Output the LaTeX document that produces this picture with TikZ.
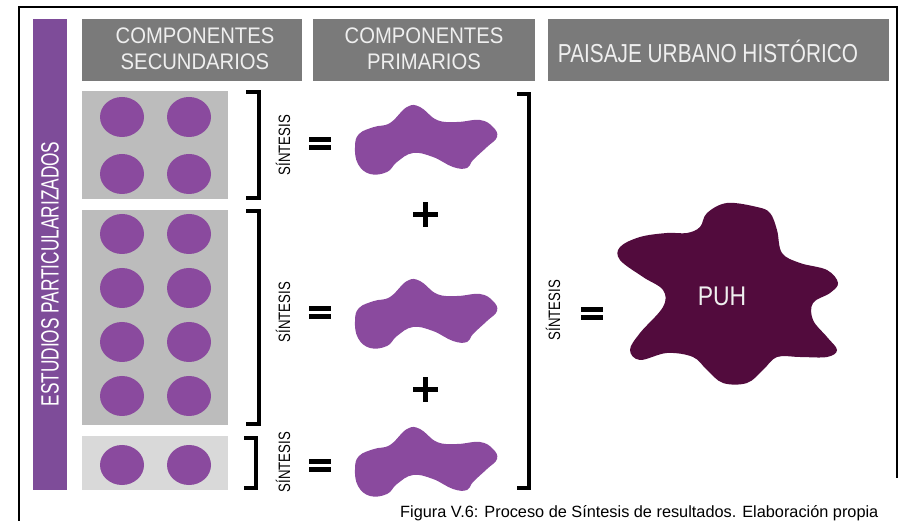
\documentclass[tikz,border=0pt]{standalone}
\usepackage{fontspec}
\setmainfont{Liberation Sans}
\definecolor{headgray}{HTML}{7A7A7A}
\definecolor{headtext}{HTML}{EFEFEF}
\definecolor{boxgray}{HTML}{BCBCBC}
\definecolor{boxlight}{HTML}{D9D9D9}
\definecolor{barpurple}{HTML}{7E4C99}
\definecolor{dotpurple}{HTML}{8A4A9E}
\definecolor{puhpurple}{HTML}{520B3D}

\tikzset{
  headtxt/.style={text=headtext,align=center,inner sep=0pt},
  sintesis/.style={rotate=90,xscale=0.8,inner sep=0pt,font=\fontsize{16.5}{18}\selectfont},
  bracket/.style={line width=4.5pt,line join=miter},
  eqsign/.pic={\fill (-11,-6.5) rectangle (11,-1.5); \fill (-11,1.5) rectangle (11,6.5);},
  plussign/.pic={\fill (-12.5,-2.5) rectangle (12.5,2.5); \fill (-2.5,-12.5) rectangle (2.5,12.5);}
}

\begin{document}
\begin{tikzpicture}[x=1pt,y=-1pt]
  \useasboundingbox (0,0) rectangle (903,521);
  \draw[line width=1.5pt] (19,521) -- (19,7) -- (897,7) -- (897,478);
  % columna lateral y cabeceras
  \fill[barpurple] (33,19) rectangle (67,490);
  \node[white,rotate=90,xscale=0.69,inner sep=0pt,font=\fontsize{25}{28}\selectfont] (estudios) at (50,274) {ESTUDIOS PARTICULARIZADOS};
  \fill[headgray] (82,19) rectangle (302,81);
  \fill[headgray] (313,19) rectangle (535,81);
  \fill[headgray] (548,19) rectangle (889,81);
  \node[headtxt,xscale=0.9,font=\fontsize{22.5}{26}\selectfont] (secund) at (195,49) {COMPONENTES\\SECUNDARIOS};
  \node[headtxt,xscale=0.9,font=\fontsize{22.5}{26}\selectfont] (primar) at (424,49) {COMPONENTES\\PRIMARIOS};
  \node[headtxt,xscale=0.8,font=\fontsize{26}{28}\selectfont] (puhhead) at (708,51) {PAISAJE URBANO HIST\'ORICO};
  % componentes secundarios
  \fill[boxgray] (82,91) rectangle (228,199);
  \fill[boxgray] (82,210) rectangle (228,425);
  \fill[boxlight] (82,436) rectangle (228,490);
  \foreach \yy in {117,174,234,288,342,396,465}{
    \fill[dotpurple] (122,\yy) ellipse (22 and 20);
    \fill[dotpurple] (189,\yy) ellipse (22 and 20);
  }
  \draw[bracket] (246,92) -- (259,92) -- (259,198) -- (246,198);
  \draw[bracket] (246,211) -- (259,211) -- (259,424) -- (246,424);
  \draw[bracket] (244,438) -- (256,438) -- (256,488) -- (244,488);
  \node[sintesis] (sint1) at (283,145) {S\'INTESIS};
  \node[sintesis] (sint2) at (283,312) {S\'INTESIS};
  \node[sintesis] (sint3) at (283,462) {S\'INTESIS};
  \pic at (320,144) {eqsign};
  \pic at (320,313) {eqsign};
  \pic at (320,465) {eqsign};
  % componentes primarios
  \foreach \yy in {140,314,462}{
    \fill[dotpurple,shift={(426,\yy)}] plot[smooth cycle,tension=0.7] coordinates {
      (-71,7) (-67,-6) (-52,-13) (-36,-17) (-19,-33) (-6,-33) (11,-20) (31,-18)
      (54,-20) (67,-13) (71,-3) (61,7) (47,20) (41,28) (27,27) (7,17) (-13,13)
      (-29,22) (-39,32) (-56,34) (-68,24)};
  }
  \pic at (425,215) {plussign};
  \pic at (425,390) {plussign};
  \draw[bracket] (517,94) -- (529,94) -- (529,488) -- (517,488);
  \node[sintesis] (sint4) at (553,310) {S\'INTESIS};
  \pic at (592,314) {eqsign};
  % paisaje urbano historico
  \fill[puhpurple] plot[smooth cycle,tension=0.6] coordinates {
    (707,213) (727,203) (757,207) (770,213) (777,230) (782,253) (800,263)
    (827,270) (838,283) (830,293) (813,303) (813,320) (827,337) (837,350)
    (827,357) (800,357) (777,357) (763,370) (747,383) (723,383) (707,370)
    (693,357) (667,353) (640,360) (630,350) (640,333) (663,307) (663,290)
    (643,277) (620,260) (620,247) (640,237) (667,233) (687,233) (700,227)};
  \node[headtxt,xscale=0.85,font=\fontsize{27}{30}\selectfont] (puh) at (722,296) {PUH};
  \node[anchor=base west,inner sep=0pt,font=\fontsize{16.3}{18}\selectfont] (caption) at (400,517)
    {Figura V.6: Proceso de S\'intesis de resultados. Elaboraci\'on propia};
\end{tikzpicture}
\end{document}
